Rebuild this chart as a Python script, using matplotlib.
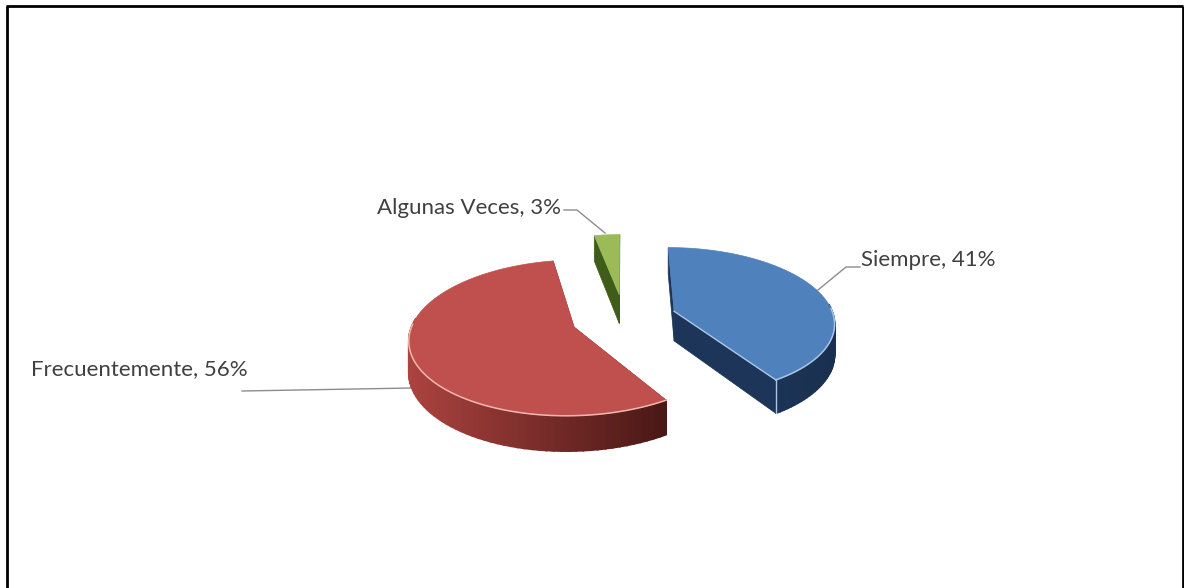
import matplotlib
matplotlib.use('Agg')
import matplotlib.pyplot as plt
from matplotlib.colors import to_rgb
from matplotlib.patches import Polygon
import numpy as np

categories = ['Siempre', 'Frecuentemente', 'Algunas Veces']
values = [41, 56, 3]
top_colors = ['#4F81BD', '#C0504D', '#9BBB59']
edge_colors = ['#A9C6E8', '#F2B8B0', '#9BBB59']
cut_colors = ['#1C3558', '#7A2A28', '#3F5C18']
rim_left = ['#1D3A60', '#AC433F', '#3F5C18']
rim_right = ['#1A3050', '#4A1816', '#3F5C18']

# pixel geometry of the pie
CX, CY = 624, 318
R = 160
TILT = 74
PERSP = 0.135
EXPLODE = 0.33
HEIGHT = 30


def project(x, d, z=0):
    s = 1 / (1 + PERSP * d)
    return CX + x * s, CY + s * (-TILT * d + z)


def mix(c1, c2, t):
    a, b = np.array(to_rgb(c1)), np.array(to_rgb(c2))
    return tuple(a + (b - a) * t)


fig = plt.figure(figsize=(11.84, 5.88), dpi=100)
ax = fig.add_axes([0, 0, 1, 1])
ax.set_xlim(0, 1184)
ax.set_ylim(588, 0)
ax.axis('off')

start = 0
for i in range(len(values)):
    sweep = values[i] / sum(values) * 2 * np.pi
    th = np.linspace(start, start + sweep, 90)
    mid = start + sweep / 2
    start += sweep

    # apex and rim in ground coordinates, depth in radius units
    x0 = EXPLODE * R * np.sin(mid)
    d0 = EXPLODE * np.cos(mid)
    xs = x0 + R * np.sin(th)
    ds = d0 + np.cos(th)

    top = [project(x0, d0)] + [project(a, b) for a, b in zip(xs, ds)]
    low = [project(x0, d0, HEIGHT)] + [project(a, b, HEIGHT) for a, b in zip(xs, ds)]

    # cut faces
    for j in [1, len(top) - 1]:
        ax.add_patch(Polygon([top[0], top[j], low[j], low[0]], fc=cut_colors[i],
                             ec=cut_colors[i], lw=0.5, zorder=2))

    # outer wall, shaded left to right, only the part facing us
    x_min = min(p[0] for p in top[1:])
    x_max = max(p[0] for p in top[1:])
    for j in range(1, len(top) - 1):
        if np.cos(th[j - 1]) > 0.1:
            continue
        t = (top[j][0] - x_min) / (x_max - x_min)
        c = mix(rim_left[i], rim_right[i], t)
        ax.add_patch(Polygon([top[j], top[j + 1], low[j + 1], low[j]], fc=c, ec=c,
                             lw=1.2, zorder=3))

    ax.add_patch(Polygon(top, fc=top_colors[i], ec=top_colors[i], lw=0.5, zorder=4))

    # light line along the front of the top face
    front = [p for p, b in zip(top[1:], ds) if b < d0 + 0.05]
    if i < 2:
        ax.plot([p[0] for p in front], [p[1] for p in front], color=edge_colors[i],
                lw=1.1, zorder=5)
    if i == 0:
        ax.plot([top[0][0], top[-1][0]], [top[0][1], top[-1][1]], color=edge_colors[i],
                lw=1.0, zorder=5)
        ax.plot([top[-1][0], low[-1][0]], [top[-1][1], low[-1][1]], color=edge_colors[i],
                lw=1.0, zorder=5)

# leader lines
ax.plot([860, 846, 818], [267, 267, 290], color='#8C8C8C', lw=1, zorder=1)
ax.plot([242, 412], [391, 388], color='#8C8C8C', lw=1, zorder=1)
ax.plot([564, 577, 605], [210, 210, 233], color='#8C8C8C', lw=1, zorder=1)

# labels
label_pos = [(861, 260), (31, 369), (377, 208)]
for i in range(len(categories)):
    ax.text(label_pos[i][0], label_pos[i][1], '%s, %d%%' % (categories[i], values[i]),
            family='Lato', fontsize=16, color='#404040', ha='left', va='center')

# black frame, no line at the bottom
ax.plot([6.5, 6.5], [588, 5.5], color='black', lw=2, solid_capstyle='butt')
ax.plot([5.5, 1183], [5.5, 5.5], color='black', lw=2, solid_capstyle='butt')
ax.plot([1183, 1183], [5.5, 588], color='black', lw=2, solid_capstyle='butt')

fig.savefig('out.png', dpi=100)
